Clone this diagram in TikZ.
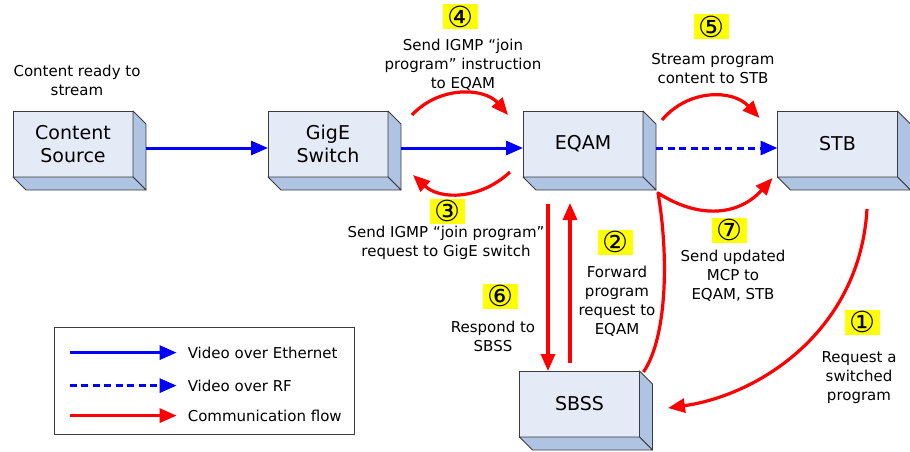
\documentclass[tikz,border=0pt]{standalone}
\usepackage{fontspec}
\setmainfont{DejaVu Sans}
\usetikzlibrary{arrows.meta,calc}

\definecolor{faceblue}{HTML}{E4EAF6}
\definecolor{sideblue}{HTML}{AFC3E2}
\definecolor{edgegray}{HTML}{3C3C3C}
\definecolor{flowred}{HTML}{FF0000}
\definecolor{videoblue}{HTML}{0000FF}
\definecolor{markyellow}{HTML}{FFFF00}

% circled step number, centred on the yellow patch
\newcommand{\stepmark}[1]{\smash{\raisebox{-0.36em}{#1}}}

\begin{document}
\begin{tikzpicture}[x=1pt,y=-1pt,
  blockface/.style={draw=edgegray, line width=0.9pt, fill=faceblue,
    minimum width=120pt, minimum height=66pt, inner sep=0pt, outer sep=0pt,
    align=center, font=\fontsize{19}{23}\selectfont},
  blockdepth/.style={draw=edgegray, line width=0.9pt, fill=sideblue, line join=round},
  lbl/.style={align=center, inner sep=0pt, font=\fontsize{15}{19}\selectfont},
  badge/.style={fill=markyellow, minimum width=35pt, minimum height=25pt,
    inner sep=0pt, font=\fontsize{29}{29}\selectfont},
  tip/.style={-{Triangle[length=17pt,width=14pt]}},
  ether/.style={tip, videoblue, line width=3pt},
  rf/.style={tip, videoblue, line width=3pt, dash pattern=on 7pt off 4.5pt},
  flow/.style={tip, flowred, line width=3.2pt},
]
\useasboundingbox (0,0) rectangle (910,452);

% front faces of the five blocks
\node[blockface] (src)  at (73,144)    {Content\\Source};
\node[blockface] (gige) at (328,144)   {GigE\\Switch};
\node[blockface] (eqam) at (583,144)   {EQAM};
\node[blockface] (stb)  at (837.5,144) {STB};
\node[blockface] (sbss) at (579.5,404) {SBSS};

% side and bottom faces give each block its depth
\foreach \b in {src,gige,eqam,stb,sbss}{
  \path[blockdepth] (\b.north east) -- ++(13,13) -- ($(\b.south east)+(13,13)$)
    -- (\b.south east) -- cycle;
  \path[blockdepth] (\b.south west) -- (\b.south east) -- ++(13,13)
    -- ($(\b.south west)+(13,13)$) -- cycle;
}

% video paths
\draw[ether] ($(src.east)+(13,4)$) -- ($(gige.west)+(0,4)$);
\draw[ether] ($(gige.east)+(13,4)$) -- ($(eqam.west)+(0,4)$);
\draw[rf]    ($(eqam.east)+(13,4)$) -- ($(stb.west)+(0,4)$);

% communication flow
% (1) STB -> SBSS
\draw[flow] ($(stb.south)+(29.5,32)$) .. controls ($(stb.south)+(22.5,153)$)
  and ($(sbss.east)+(120.5,-9)$) .. ($(sbss.east)+(28.5,4)$);
% (2) SBSS -> EQAM
\draw[flow] ($(sbss.north)+(-9.5,-8)$) -- ($(eqam.south)+(-13,26)$);
% (3) EQAM -> GigE switch
\draw[flow] ($(eqam.south west)+(-13,-5)$) .. controls ($(eqam.south west)+(-43,23)$)
  and ($(gige.south east)+(52,23)$) .. ($(gige.south east)+(25,-2)$);
% (4) GigE switch -> EQAM
\draw[flow] ($(gige.north east)+(24,4)$) .. controls ($(gige.north east)+(52,-26)$)
  and ($(eqam.north west)+(-38,-23)$) .. ($(eqam.north west)+(-15,4)$);
% (5) EQAM -> STB
\draw[flow] ($(eqam.north east)+(19,9)$) .. controls ($(eqam.north east)+(45,-22)$)
  and ($(stb.north west)+(-45,-22)$) .. ($(stb.north west)+(-18,7)$);
% (6) EQAM -> SBSS
\draw[flow] ($(eqam.south)+(-35,27)$) -- ($(sbss.north)+(-31.5,0)$);
% (7) SBSS -> EQAM, STB
\coordinate (turn) at ($(eqam.south east)+(15,16)$);
\draw[flow, line join=round] ($(sbss.north east)+(4,1)$)
  .. controls ($(sbss.north east)+(29,-36)$) and ($(turn)+(10,57)$) .. (turn)
  .. controls ($(turn)+(42,27)$) and ($(stb.south west)+(-38,38)$)
  .. ($(stb.south west)+(-5,1)$);

% captions
\node[lbl] (cap0) at (77,80) {Content ready to\\stream};

\node[badge] (n4) at (460,17) {\stepmark{④}};
\node[lbl] (cap4) at (463,65) {Send IGMP “join\\program” instruction\\to EQAM};

\node[badge] (n5) at (711,27) {\stepmark{⑤}};
\node[lbl] (cap5) at (713,69) {Stream program\\content to STB};

\node[badge] (n3) at (447,211) {\stepmark{③}};
\node[lbl] (cap3) at (446,243) {Send IGMP “join program”\\request to GigE switch};

\node[badge] (n6) at (500,296) {\stepmark{⑥}};
\node[lbl] (cap6) at (493,336) {Respond to\\SBSS};

\node[badge] (n2) at (615,242) {\stepmark{②}};
\node[lbl] (cap2) at (617,301.5) {Forward\\program\\request to\\EQAM};

\node[badge] (n7) at (729,230) {\stepmark{⑦}};
\node[lbl] (cap7) at (733,276) {Send updated\\MCP to\\EQAM, STB};

\node[badge] (n1) at (862,322) {\stepmark{①}};
\node[lbl] (cap1) at (859,378) {Request a\\switched\\program};

% legend
\node[draw=edgegray, line width=0.8pt, minimum width=300pt, minimum height=107pt,
  inner sep=0pt] (legend) at (204,380.5) {};
\coordinate (l1) at ($(legend.north west)+(16,26)$);
\coordinate (l2) at ($(legend.north west)+(16,59)$);
\coordinate (l3) at ($(legend.north west)+(16,89)$);
\draw[ether] (l1) -- ++(107,0) coordinate (e1);
\draw[rf]    (l2) -- ++(107,0) coordinate (e2);
\draw[flow]  (l3) -- ++(107,0) coordinate (e3);
\node[lbl, anchor=west] (t1) at ($(e1)+(11,0)$) {Video over Ethernet};
\node[lbl, anchor=west] (t2) at ($(e2)+(11,0)$) {Video over RF};
\node[lbl, anchor=west] (t3) at ($(e3)+(11,0)$) {Communication flow};
\end{tikzpicture}
\end{document}
